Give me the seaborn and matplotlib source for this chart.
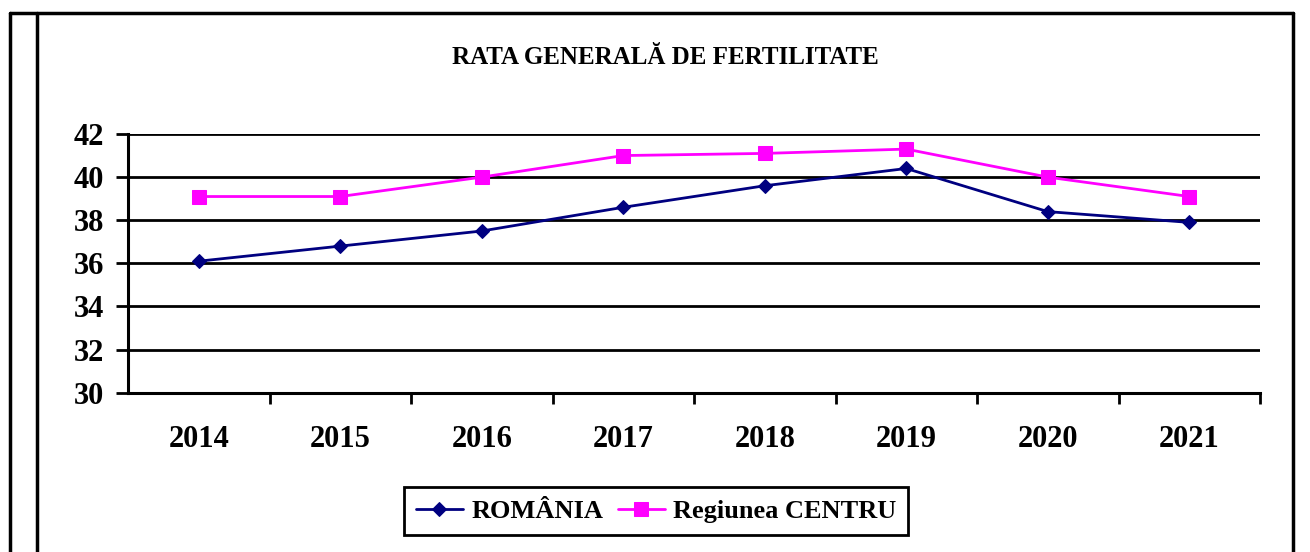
import matplotlib
matplotlib.use("Agg")
import matplotlib.pyplot as plt
from matplotlib.lines import Line2D
import numpy as np
import pandas as pd
import seaborn as sns

years = ["2014", "2015", "2016", "2017", "2018", "2019", "2020", "2021"]
romania = [36.1, 36.8, 37.5, 38.6, 39.6, 40.4, 38.4, 37.9]
centru = [39.1, 39.1, 40.0, 41.0, 41.1, 41.3, 40.0, 39.1]
y_ticks = [30, 32, 34, 36, 38, 40, 42]

sns.set_style("white", {"text.color": "black", "xtick.color": "black",
                        "ytick.color": "black", "axes.labelcolor": "black"})
plt.rcParams["font.family"] = ["Liberation Serif", "DejaVu Serif"]
plt.rcParams["font.weight"] = "bold"

fig = plt.figure(figsize=(13.1, 5.52), dpi=100)
ax = fig.add_axes([128 / 1310, 1 - 392.7 / 552, (1260 - 128) / 1310, (392.7 - 134) / 552])

pos = np.arange(len(years))
df = pd.DataFrame({"pos": pos, "ro": romania, "ce": centru})

sns.lineplot(data=df, x="pos", y="ro", ax=ax, color="#000080", lw=2,
             marker="D", markersize=7.5, markeredgecolor="#000080",
             label="ROMÂNIA")
sns.lineplot(data=df, x="pos", y="ce", ax=ax, color="#FF00FF", lw=2,
             marker="s", markersize=10, markeredgecolor="#FF00FF",
             label="Regiunea CENTRU")

ax.set_xlim(-0.5, len(years) - 0.5)
ax.set_ylim(30, 42)
ax.set_yticks(y_ticks)
ax.set_yticklabels([str(v) for v in y_ticks], fontsize=22, fontweight="bold")
ax.set_xticks(pos)
ax.set_xticklabels(years, fontsize=22, fontweight="bold")
ax.set_xticks(np.arange(0.5, len(years)), minor=True)
ax.tick_params(axis="x", which="major", bottom=True, length=0, pad=23)
ax.tick_params(axis="x", which="minor", bottom=True, length=8, width=2,
               color="black", direction="out")
ax.tick_params(axis="y", left=True, length=9, width=2, color="black",
               direction="out", pad=8)
ax.set_xlabel("")
ax.set_ylabel("")

ax.grid(axis="y", color="black", lw=2)
ax.grid(axis="x", visible=False)
ax.set_axisbelow(True)
for side in ["top", "right"]:
    ax.spines[side].set_visible(False)
for side in ["left", "bottom"]:
    ax.spines[side].set_color("black")
    ax.spines[side].set_linewidth(2.2)

leg = ax.legend(loc="center", bbox_to_anchor=(656 / 1310, 1 - 511 / 552),
                bbox_transform=fig.transFigure, ncol=2, fancybox=False,
                prop={"size": 19, "weight": "bold"}, handlelength=1.8,
                handletextpad=0.3, columnspacing=0.55, borderpad=0.45,
                framealpha=1)
leg.get_frame().set_edgecolor("black")
leg.get_frame().set_linewidth(2)

fig.text(665 / 1310, 1 - 57 / 552, "RATA GENERALĂ DE FERTILITATE",
         ha="center", va="center", fontsize=18, fontweight="bold")

# table cell borders around the chart
kw = dict(color="black", lw=2.5, transform=fig.transFigure)
fig.add_artist(Line2D([10 / 1310, 1293 / 1310], [1 - 13 / 552, 1 - 13 / 552], **kw))
fig.add_artist(Line2D([10 / 1310, 10 / 1310], [0, 1 - 13 / 552], **kw))
fig.add_artist(Line2D([37 / 1310, 37 / 1310], [0, 1 - 13 / 552], **kw))
fig.add_artist(Line2D([1293 / 1310, 1293 / 1310], [0, 1 - 13 / 552], **kw))

fig.savefig("out.png", dpi=100)
